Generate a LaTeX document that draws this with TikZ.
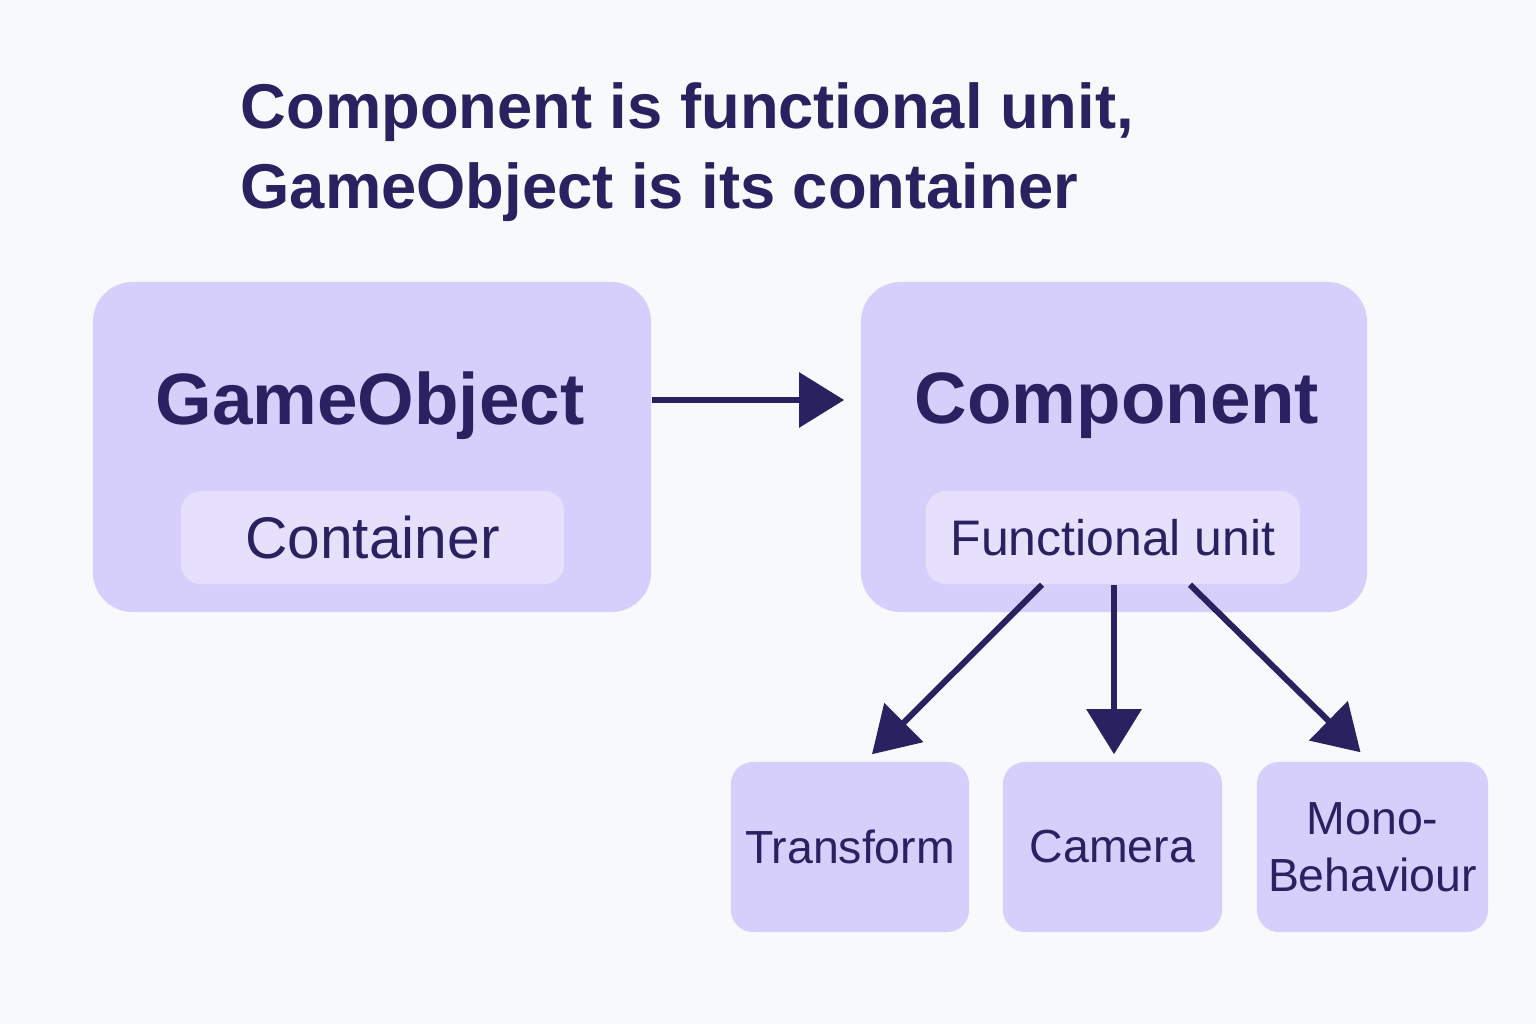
\documentclass[tikz,border=0pt]{standalone}
\usepackage{fontspec}
\setmainfont{Liberation Sans}
\usetikzlibrary{arrows.meta,calc}
\definecolor{ink}{HTML}{2A2160}
\definecolor{boxfill}{HTML}{D6CEFB}
\definecolor{innerfill}{HTML}{E6E0FD}
\definecolor{paper}{HTML}{F8F9FC}

\begin{document}
\begin{tikzpicture}[x=0.01cm,y=-0.01cm,inner sep=0pt,
  bigbox/.style={fill=boxfill,rounded corners=0.4cm,minimum width=#1,minimum height=3.3cm},
  headline/.style={text=ink,font=\bfseries\fontsize{20.7}{24}\selectfont},
  tagbox/.style={fill=innerfill,rounded corners=0.2cm,minimum height=0.93cm,minimum width=#1,text=ink},
  smallbox/.style={fill=boxfill,rounded corners=0.22cm,minimum height=1.7cm,minimum width=#1,text=ink,align=center,font=\fontsize{13.2}{16.2}\selectfont},
  link/.style={ink,line width=0.06cm,-{Triangle[length=0.45cm,width=0.54cm]}}]
\path[fill=paper] (0,0) rectangle (1536,1024);
\node[anchor=west,align=left,text=ink,font=\bfseries\fontsize{18}{22.8}\selectfont] (title) at (240,152)
  {Component is functional unit,\\ GameObject is its container};
\node[bigbox=5.58cm] (go) at (372,447) {};
\node[headline] (gotitle) at (370,406) {GameObject};
\node[tagbox=3.83cm,font=\fontsize{16.7}{20}\selectfont] (cont) at (372.5,537.5) {Container};
\node[bigbox=5.06cm] (comp) at (1114,447) {};
\node[headline] (comptitle) at (1117,406) {Component};
\node[tagbox=3.74cm,font=\fontsize{14.2}{17}\selectfont] (func) at (1113,537.5) {Functional unit};
\node[smallbox=2.38cm] (tr) at (850,847) {Transform};
\node[smallbox=2.19cm] (cam) at (1112.5,847) {Camera};
\node[smallbox=2.31cm] (mono) at (1372.5,847) {Mono-\\Behaviour};
% connectors
\draw[link] ($(go.east |- gotitle)+(0,-6)$) -- ($(comp.west |- gotitle)+(-16,-6)$);
\draw[link] ($(func.south)+(-71,0)$) -- ($(tr.north)+(22,-7)$);
\draw[link] ($(func.south)+(1,0)$) -- ($(cam.north)+(1.5,-7)$);
\draw[link] ($(func.south)+(77,0)$) -- ($(mono.north)+(-12,-9)$);
\end{tikzpicture}
\end{document}
